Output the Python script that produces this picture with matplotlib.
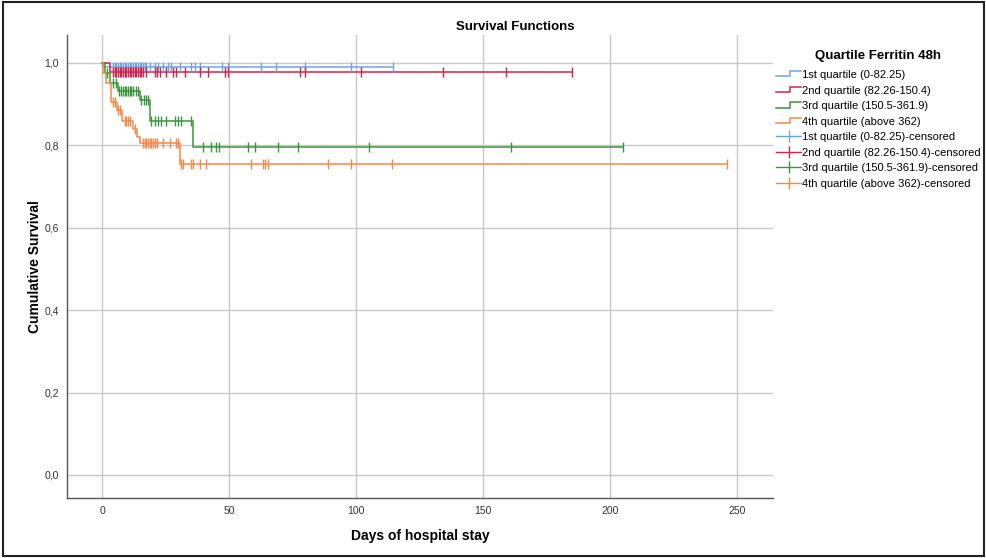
import matplotlib
matplotlib.use("Agg")
import matplotlib.pyplot as plt
from matplotlib.lines import Line2D
from matplotlib.legend_handler import HandlerBase
from matplotlib.patches import Rectangle

plt.rcParams['font.family'] = ['Liberation Sans', 'DejaVu Sans']

# Kaplan-Meier steps (day, survival) and censored times
q1_t = [0, 0.5, 114.5]
q1_s = [1.0, 0.99, 0.99]
q1_cens = [4.3, 5.0, 5.6, 6.3, 6.9, 7.5, 8.2, 8.8, 9.5, 10.2, 10.8, 11.5, 12.1,
           12.8, 13.4, 14.1, 14.8, 15.4, 16.1, 16.8, 17.4, 18.7, 20.7, 22, 24,
           25.9, 27.2, 30.5, 35.1, 36.4, 38.4, 47, 49.5, 62.7, 68.6, 79.7, 98, 114.5]

q2_t = [0, 3.0, 185]
q2_s = [1.0, 0.978, 0.978]
q2_cens = [4.3, 5.0, 5.6, 6.3, 6.9, 7.5, 8.2, 8.8, 9.5, 10.2, 10.8, 11.5, 12.1,
           12.8, 13.4, 14.1, 14.8, 15.4, 16.1, 17.4, 20.7, 21.4, 22.6, 25.3,
           27.9, 29.2, 32.5, 38.4, 41.7, 48.3, 49.5, 77.7, 79.7, 102, 134, 159, 185]

q3_t = [0, 1.0, 3.0, 6.2, 14.8, 18.7, 35.8, 205]
q3_s = [1.0, 0.975, 0.952, 0.933, 0.91, 0.86, 0.797, 0.797]
q3_cens = [2.0, 4.3, 5.3, 6.6, 7.5, 8.2, 8.9, 9.5, 10.2, 10.8, 11.5, 12.1, 13.4,
           14.1, 15.4, 16.4, 17.4, 18.1, 19.4, 20.7, 22, 23.3, 25.3, 28.5, 30,
           31, 35, 39.7, 43, 45, 46, 57.4, 60, 69.2, 77, 105, 161, 205]

q4_t = [0, 0.5, 1.6, 3.6, 5.9, 8.0, 12.1, 13.7, 14.8, 30.5, 246]
q4_s = [1.0, 0.975, 0.95, 0.905, 0.885, 0.86, 0.84, 0.82, 0.805, 0.755, 0.755]
q4_cens = [4.3, 4.9, 6.2, 6.9, 8.9, 9.5, 10.2, 10.8, 12.8, 16.1, 16.7, 17.4,
           18.1, 18.7, 19.4, 20, 20.7, 21.4, 24, 26.6, 29.2, 29.9, 31.2, 31.8,
           35.1, 35.8, 38.4, 41, 58.7, 63.3, 64, 65.3, 89, 98, 114, 246]

labels = ["1st quartile (0-82.25)", "2nd quartile (82.26-150.4)",
          "3rd quartile (150.5-361.9)", "4th quartile (above 362)"]
colors = ["#73a3dc", "#d6224a", "#3b953b", "#f7884a"]

curves = [(q1_t, q1_s, q1_cens), (q2_t, q2_s, q2_cens),
          (q3_t, q3_s, q3_cens), (q4_t, q4_s, q4_cens)]


def surv_at(t_list, s_list, t):
    s = s_list[0]
    for tt, ss in zip(t_list, s_list):
        if tt <= t:
            s = ss
    return s


class HandlerStep(HandlerBase):
    # small step-shaped legend icon like the SPSS one
    def create_artists(self, legend, orig_handle, xdescent, ydescent,
                       width, height, fontsize, trans):
        x0 = -xdescent
        lo = -ydescent + height * 0.2
        hi = -ydescent + height * 0.85
        xm = x0 + width * 0.55
        ln = Line2D([x0, xm, xm, x0 + width], [lo, lo, hi, hi],
                    color=orig_handle.get_color(), lw=1.1, transform=trans)
        return [ln]


fig = plt.figure(figsize=(9.87, 5.58), dpi=100)
ax = fig.add_axes([0.068, 0.1075, 0.715, 0.83])

step_handles = []
cens_handles = []
for (t, s, c), col in zip(curves, colors):
    h, = ax.step(t, s, where='post', color=col, lw=1.1, zorder=3)
    step_handles.append(h)
    ys = [surv_at(t, s, ct) for ct in c]
    ax.plot(c, ys, linestyle='none', marker='|', markersize=7,
            markeredgewidth=1.0, color=col, zorder=4)
    cens_handles.append(Line2D([], [], color=col, lw=1.0, marker='|',
                               markersize=9, markeredgewidth=1.0))

ax.set_xlim(-13.8, 264)
ax.set_ylim(-0.056, 1.068)
ax.set_xticks([0, 50, 100, 150, 200, 250])
ax.set_yticks([0.0, 0.2, 0.4, 0.6, 0.8, 1.0])
ax.set_yticklabels([f"{v:.1f}".replace(".", ",") for v in ax.get_yticks()])
ax.grid(True, color="#c8c8c8", lw=1.0)
ax.set_axisbelow(True)
ax.tick_params(length=0, labelsize=7.5, colors="#333333", pad=6)
for side in ["top", "right"]:
    ax.spines[side].set_visible(False)
for side in ["left", "bottom"]:
    ax.spines[side].set_color("#555555")
    ax.spines[side].set_linewidth(1.0)

ax.set_xlabel("Days of hospital stay", fontsize=10, fontweight='bold', labelpad=9)
ax.set_ylabel("Cumulative Survival", fontsize=10, fontweight='bold', labelpad=2)
fig.text(0.522, 0.952, "Survival Functions", ha='center', va='center',
         fontsize=9.5, fontweight='bold')

handler_map = {h: HandlerStep() for h in step_handles}
leg = fig.legend(step_handles + cens_handles,
                 labels + [lab + "-censored" for lab in labels],
                 loc='upper left', bbox_to_anchor=(0.782, 0.919),
                 frameon=False, fontsize=8, title="Quartile Ferritin 48h",
                 title_fontproperties={'weight': 'bold', 'size': 9.5},
                 handlelength=2.2, handletextpad=0.1, labelspacing=0.5,
                 handler_map=handler_map, borderaxespad=0)
leg._legend_box.sep = 6

fig.patches.append(Rectangle((0.003, 0.004), 0.994, 0.992, fill=False,
                             ec="#222222", lw=1.5, transform=fig.transFigure))

fig.savefig("out.png", dpi=100)
